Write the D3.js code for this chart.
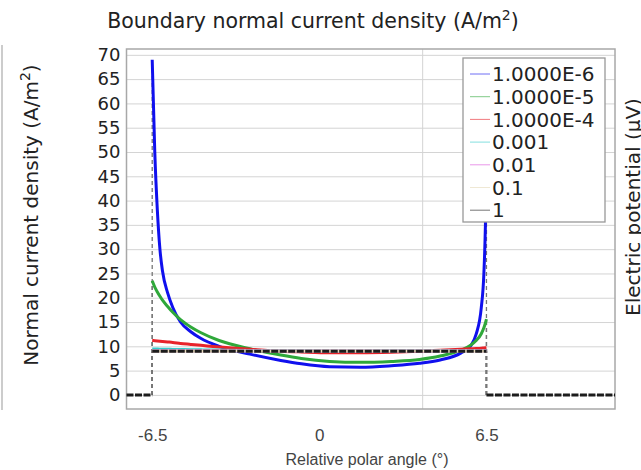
<!DOCTYPE html>
<html>
<head>
<meta charset="utf-8">
<script src="https://cdn.jsdelivr.net/npm/d3@7"></script>
<style>
  body { margin: 0; background: #fff; }
  svg { display: block; }
</style>
</head>
<body>
<svg id="chart" width="641" height="470"></svg>
<script>
// data
var angles = [-6.5, -6.4, -6.3, -6.2, -6.1, -5.9, -5.7, -5.4, -5.0, -4.6, -3.9, -2.7, -1.5, -0.7, 0.4, 1.6, 2.8, 3.9, 4.7, 5.5, 5.9, 6.1, 6.3, 6.4, 6.46, 6.5];
var s1e6 = [69, 50, 38, 30, 25.5, 21, 18, 15, 13, 11.6, 10, 8.4, 7.1, 6.4, 5.8, 5.7, 6.0, 6.5, 7.2, 8.6, 10.2, 12.5, 18, 25, 35, 48];
var s1e5 = [23.5, 22.2, 21.2, 20.3, 19.5, 18.2, 17.0, 15.5, 14.0, 12.8, 11.2, 9.5, 8.2, 7.5, 6.9, 6.7, 6.9, 7.3, 8.0, 9.2, 10.3, 11.2, 12.6, 13.8, 14.8, 15.6];
var s1e4 = [11.2, 11.15, 11.1, 11.05, 11.0, 10.9, 10.8, 10.6, 10.4, 10.2, 9.85, 9.4, 9.0, 8.85, 8.7, 8.7, 8.8, 9.0, 9.2, 9.4, 9.5, 9.55, 9.62, 9.67, 9.7, 9.72];
var s1e3 = [9.45, 9.44, 9.43, 9.42, 9.41, 9.39, 9.37, 9.34, 9.3, 9.27, 9.22, 9.15, 9.1, 9.08, 9.06, 9.06, 9.07, 9.08, 9.1, 9.12, 9.13, 9.14, 9.15, 9.15, 9.16, 9.16];
var s1e2 = [9.1, 9.1, 9.1, 9.1, 9.1, 9.1, 9.1, 9.1, 9.09, 9.09, 9.08, 9.07, 9.06, 9.05, 9.05, 9.05, 9.05, 9.06, 9.06, 9.07, 9.07, 9.08, 9.08, 9.08, 9.08, 9.08];
var s1e1 = [9.05, 9.05, 9.05, 9.05, 9.05, 9.05, 9.05, 9.05, 9.05, 9.05, 9.05, 9.05, 9.05, 9.05, 9.05, 9.05, 9.05, 9.05, 9.05, 9.05, 9.05, 9.05, 9.05, 9.05, 9.05, 9.05];
var s1 = [9.0, 9.0, 9.0, 9.0, 9.0, 9.0, 9.0, 9.0, 9.0, 9.0, 9.0, 9.0, 9.0, 9.0, 9.0, 9.0, 9.0, 9.0, 9.0, 9.0, 9.0, 9.0, 9.0, 9.0, 9.0, 9.0];
var outsideLeft = [-7.5, -6.5];
var outsideRight = [6.5, 11.5];
var names = ["1.0000E-6", "1.0000E-5", "1.0000E-4", "0.001", "0.01", "0.1", "1"];
var colors = ["#1010ee", "#2fa83a", "#e8232a", "#33cccc", "#dd55dd", "#e6d9b8", "#1c1c1c"];
var yTicks = [0, 5, 10, 15, 20, 25, 30, 35, 40, 45, 50, 55, 60, 65, 70];
var xTicks = [-6.5, 0, 6.5];
var xGrid = [4];

var allSeries = [s1e6, s1e5, s1e4, s1e3, s1e2, s1e1, s1];

var svg = d3.select("#chart");
var pLeft = 126.5, pRight = 615, pTop = 49, pBottom = 409;

var x = d3.scaleLinear().domain([-7.5, 11.5]).range([pLeft, pRight]);
var y = d3.scaleLinear().domain([-2.9, 71.2]).range([pBottom, pTop]);

// edge of the neighbouring plot
svg.append("line").attr("x1", 2).attr("x2", 2).attr("y1", 45).attr("y2", 410)
  .attr("stroke", "#bbb").attr("stroke-width", 1.5);

// grid
svg.append("g")
  .attr("transform", "translate(" + pLeft + ",0)")
  .call(d3.axisLeft(y).tickValues(yTicks).tickSize(-(pRight - pLeft)).tickFormat(""))
  .call(function(g) { g.select(".domain").remove(); })
  .selectAll("line").attr("stroke", "#d4d4d4");

svg.append("g")
  .attr("transform", "translate(0," + pBottom + ")")
  .call(d3.axisBottom(x).tickValues(xGrid).tickSize(-(pBottom - pTop)).tickFormat(""))
  .call(function(g) { g.select(".domain").remove(); })
  .selectAll("line").attr("stroke", "#d4d4d4");

// frame
svg.append("rect").attr("x", pLeft).attr("y", pTop)
  .attr("width", pRight - pLeft).attr("height", pBottom - pTop)
  .attr("fill", "none").attr("stroke", "#a8a8a8").attr("stroke-width", 1.5);

// y tick labels
svg.append("g")
  .attr("transform", "translate(" + pLeft + ",0)")
  .call(d3.axisLeft(y).tickValues(yTicks).tickSize(0).tickPadding(6))
  .call(function(g) { g.select(".domain").remove(); })
  .selectAll("text")
    .attr("font-family", "DejaVu Sans")
    .attr("font-size", 18)
    .attr("fill", "#222");

// x tick labels
svg.append("g")
  .attr("transform", "translate(0," + pBottom + ")")
  .call(d3.axisBottom(x).tickValues(xTicks).tickSize(0).tickPadding(20)
    .tickFormat(function(d) { return d; }))
  .call(function(g) { g.select(".domain").remove(); })
  .selectAll("text")
    .attr("font-family", "Liberation Sans")
    .attr("font-size", 17)
    .attr("fill", "#444");

var line = d3.line()
  .x(function(d) { return x(d[0]); })
  .y(function(d) { return y(d[1]); })
  .curve(d3.curveMonotoneX);

var plot = svg.append("g");

// discontinuity dashes
allSeries.forEach(function(s) {
  [[angles[0], s[0]], [angles[angles.length - 1], s[s.length - 1]]].forEach(function(p) {
    plot.append("line")
      .attr("x1", x(p[0])).attr("x2", x(p[0]))
      .attr("y1", y(0)).attr("y2", y(p[1]))
      .attr("stroke", "#777").attr("stroke-width", 1.3)
      .attr("stroke-dasharray", "4,3");
  });
});

// curves, in plotting order (last one on top)
for (var i = 0; i < allSeries.length; i++) {
  var pts = angles.map(function(a, k) { return [a, allSeries[i][k]]; });
  var path = plot.append("path")
    .datum(pts)
    .attr("d", line)
    .attr("fill", "none")
    .attr("stroke", colors[i])
    .attr("stroke-width", 3);
  if (i == allSeries.length - 1) path.attr("stroke-dasharray", "7,1.5");
}

// zero level outside the electrode
[outsideLeft, outsideRight].forEach(function(r) {
  plot.append("path")
    .datum(r.map(function(a) { return [a, 0]; }))
    .attr("d", line)
    .attr("fill", "none")
    .attr("stroke", "#1c1c1c")
    .attr("stroke-width", 3)
    .attr("stroke-dasharray", "7,1.5");
});

// legend
var lg = svg.append("g").attr("transform", "translate(463,58)");
lg.append("rect").attr("width", 142).attr("height", 164)
  .attr("fill", "#fff").attr("stroke", "#999").attr("stroke-width", 1.3);
names.forEach(function(n, i) {
  var yy = 16 + i * 22.7;
  lg.append("line").attr("x1", 7).attr("x2", 27).attr("y1", yy).attr("y2", yy)
    .attr("stroke", colors[i]).attr("stroke-width", 1).attr("opacity", 0.6);
  lg.append("text").attr("x", 29).attr("y", yy).attr("dy", "0.36em")
    .attr("font-family", "DejaVu Sans").attr("font-size", 20).attr("fill", "#222")
    .text(n);
});

// titles
var title = svg.append("text").attr("x", 313).attr("y", 28)
  .attr("text-anchor", "middle")
  .attr("font-family", "DejaVu Sans").attr("font-size", 20.5).attr("fill", "#222")
  .text("Boundary normal current density (A/m");
title.append("tspan").attr("dy", -8).attr("font-size", 14).text("2");
title.append("tspan").attr("dy", 8).text(")");

var yl = svg.append("text")
  .attr("transform", "translate(38,215) rotate(-90)")
  .attr("text-anchor", "middle")
  .attr("font-family", "DejaVu Sans").attr("font-size", 20).attr("fill", "#222")
  .text("Normal current density (A/m");
yl.append("tspan").attr("dy", -8).attr("font-size", 14).text("2");
yl.append("tspan").attr("dy", 8).text(")");

svg.append("text")
  .attr("transform", "translate(640,207) rotate(-90)")
  .attr("text-anchor", "middle")
  .attr("font-family", "DejaVu Sans").attr("font-size", 20).attr("fill", "#222")
  .text("Electric potential (\u00b5V)");

svg.append("text").attr("x", 367).attr("y", 465)
  .attr("text-anchor", "middle")
  .attr("font-family", "Liberation Sans").attr("font-size", 16).attr("fill", "#444")
  .text("Relative polar angle (\u00b0)");
</script>
</body>
</html>
